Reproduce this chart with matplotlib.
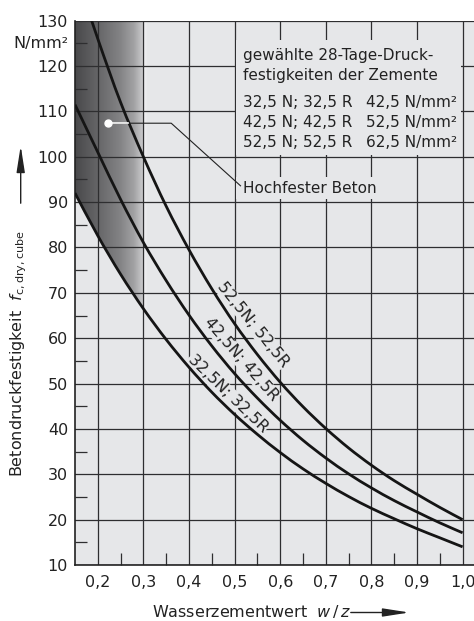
import numpy as np
import matplotlib
matplotlib.use('Agg')
from matplotlib import pyplot as plt
from matplotlib.colors import LinearSegmentedColormap
from matplotlib.patches import Rectangle, PathPatch
from matplotlib.path import Path
from matplotlib.ticker import FixedLocator

plt.rcParams['font.family'] = ['DejaVu Sans']
plt.rcParams['mathtext.fontset'] = 'dejavusans'

# curves (w/z -> N/mm2); 52,5 runs out of the top edge
wz = [0.15, 0.20, 0.25, 0.30, 0.35, 0.40, 0.45, 0.50, 0.55, 0.60,
      0.65, 0.70, 0.75, 0.80, 0.85, 0.90, 0.95, 1.00]
f_525 = [141, 126, 112, 100, 89.1, 79.5, 70.9, 63.2, 56.4, 50.3,
         44.9, 40.1, 35.8, 32.0, 28.6, 25.6, 22.7, 20.0]
f_425 = [111.5, 101, 90.6, 81.1, 72.7, 65.1, 58.3, 52.2, 46.8, 41.9,
         37.5, 33.6, 30.1, 27.0, 24.2, 21.7, 19.3, 17.1]
f_325 = [92, 82.6, 74.1, 66.5, 59.7, 53.6, 48.1, 43.2, 38.8, 34.8,
         31.2, 28.0, 25.1, 22.5, 20.2, 18.0, 16.0, 14.0]

curve_labels = ['52,5N; 52,5R', '42,5N; 42,5R', '32,5N; 32,5R']

x_ticks = [0.2, 0.3, 0.4, 0.5, 0.6, 0.7, 0.8, 0.9, 1.0]
x_ticklabels = ['0,2', '0,3', '0,4', '0,5', '0,6', '0,7', '0,8', '0,9', '1,0']
y_ticks = list(range(10, 131, 10))

legend_rows = [('32,5 N; 32,5 R', '42,5 N/mm²'),
               ('42,5 N; 42,5 R', '52,5 N/mm²'),
               ('52,5 N; 52,5 R', '62,5 N/mm²')]

bg = '#e6e7e9'
gridc = '#2e2e30'
ink = '#222222'


def smooth_path(xs, ys):
    # Catmull-Rom through the read points, drawn as cubic Beziers
    pts = np.column_stack([xs, ys]).astype(float)
    n = len(pts)
    verts = [pts[0]]
    codes = [Path.MOVETO]
    for i in range(n - 1):
        p0 = pts[i - 1] if i > 0 else pts[i]
        p1, p2 = pts[i], pts[i + 1]
        p3 = pts[i + 2] if i + 2 < n else pts[i + 1]
        verts += [p1 + (p2 - p0) / 6, p2 - (p3 - p1) / 6, p2]
        codes += [Path.CURVE4] * 3
    return Path(verts, codes)


fig = plt.figure(figsize=(4.74, 6.21), dpi=100)
ax = fig.add_axes([75/474, 56/621, 399/474, 544.3/621])
ax.set_facecolor(bg)
ax.set_xlim(0.15, 1.025)
ax.set_ylim(10, 130)

# grey gradient for "Hochfester Beton", clipped below by the 32,5 curve
cmap = LinearSegmentedColormap.from_list('hb', [
    (0.0, '#49494b'), (0.31, '#656567'), (0.62, '#838385'),
    (0.81, '#a2a2a4'), (0.92, '#c6c6c8'), (0.96, '#eeeef0'), (1.0, bg)])
grad = np.linspace(0, 1, 256).reshape(1, -1)
img = ax.imshow(grad, cmap=cmap, extent=[0.15, 0.31, 10, 130],
                aspect='auto', zorder=0.2, interpolation='bilinear')
low = smooth_path(wz[:5], f_325[:5])
clip_verts = list(low.vertices) + [(0.35, 131), (0.15, 131), (wz[0], f_325[0])]
clip_codes = list(low.codes) + [Path.LINETO, Path.LINETO, Path.CLOSEPOLY]
clip_patch = PathPatch(Path(clip_verts, clip_codes), transform=ax.transData,
                       facecolor='none', edgecolor='none')
ax.add_patch(clip_patch)
img.set_clip_path(clip_patch)

# grid
ax.set_axisbelow(True)
ax.set_xticks(x_ticks)
ax.set_xticklabels(x_ticklabels)
ax.set_yticks(y_ticks)
ax.grid(True, which='major', color=gridc, lw=0.9)
ax.xaxis.set_minor_locator(FixedLocator(np.arange(0.25, 1.0, 0.1)))
ax.yaxis.set_minor_locator(FixedLocator(np.arange(15, 130, 10)))
ax.tick_params(which='major', length=0, labelsize=11.5, colors=ink)
ax.tick_params(axis='x', which='major', pad=7)
ax.tick_params(axis='y', which='major', pad=5)
ax.tick_params(which='minor', direction='in', length=8.5, width=0.9, color=gridc)
for s in ['top', 'right']:
    ax.spines[s].set_visible(False)
for s in ['left', 'bottom']:
    ax.spines[s].set_linewidth(1.2)
    ax.spines[s].set_color(ink)

ax.annotate('N/mm²', xy=(0.15, 125), xytext=(-5, 0), textcoords='offset points',
            ha='right', va='center', fontsize=11.5, color=ink)

# boxes that hide the grid behind the texts
ax.add_patch(Rectangle((0.503, 100.4), 0.494, 25.4, facecolor=bg,
                       edgecolor='none', zorder=1.5))
ax.add_patch(Rectangle((0.503, 90.6), 0.337, 5.0, facecolor=bg,
                       edgecolor='none', zorder=1.5))

# curves
for ys in [f_525, f_425, f_325]:
    ax.add_patch(PathPatch(smooth_path(wz, ys), facecolor='none',
                           edgecolor='#151515', lw=2.0, zorder=3))

lab_pos = [(0.5395, 63.1, -51), (0.514, 55.3, -49), (0.4847, 47.8, -44)]
for txt, (lx, ly, rot) in zip(curve_labels, lab_pos):
    ax.text(lx, ly, txt, rotation=rot, rotation_mode='anchor', ha='center',
            va='center', fontsize=11.5, color=ink, zorder=2.5,
            bbox=dict(facecolor=bg, edgecolor='none', pad=0.5))

# legend block
ax.text(0.519, 121.3, 'gewählte 28-Tage-Druck-', fontsize=11, color=ink, zorder=4)
ax.text(0.519, 116.9, 'festigkeiten der Zemente', fontsize=11, color=ink, zorder=4)
for (a, b), yy in zip(legend_rows, [111.0, 106.6, 102.2]):
    ax.text(0.519, yy, a, fontsize=11, color=ink, zorder=4)
    ax.text(0.788, yy, b, fontsize=11, color=ink, zorder=4)

# Hochfester Beton callout
ax.plot([0.223, 0.361, 0.513], [107.4, 107.4, 93.6], color=ink, lw=0.8, zorder=3)
ax.plot([0.223, 0.266], [107.4, 107.4], color='white', lw=1.2, zorder=3.1)
ax.plot([0.223], [107.4], marker='o', ms=5, color='white', zorder=3.2)
ax.text(0.519, 93.0, 'Hochfester Beton', fontsize=11, color=ink,
        va='center', zorder=4)

# axis labels with arrows
fig.text(18.5/474, (621-477)/621, r'Betondruckfestigkeit  $f_{\rm c,dry,cube}$',
         rotation=90, ha='center', va='bottom', fontsize=11.5, color=ink)
ax.annotate('', xy=(20.7, 621-143), xytext=(20.7, 621-206),
            xycoords='figure pixels', textcoords='figure pixels',
            arrowprops=dict(arrowstyle='-|>,head_length=1.6,head_width=0.25',
                            lw=1, color=ink, mutation_scale=10))
fig.text(152/474, 4/621, r'Wasserzementwert  $w\,/\,z$', ha='left',
         va='baseline', fontsize=11.5, color=ink)
ax.annotate('', xy=(412, 621-612.5), xytext=(348, 621-612.5),
            xycoords='figure pixels', textcoords='figure pixels',
            arrowprops=dict(arrowstyle='-|>,head_length=1.6,head_width=0.25',
                            lw=1, color=ink, mutation_scale=10))

fig.savefig('out.png', dpi=100)
